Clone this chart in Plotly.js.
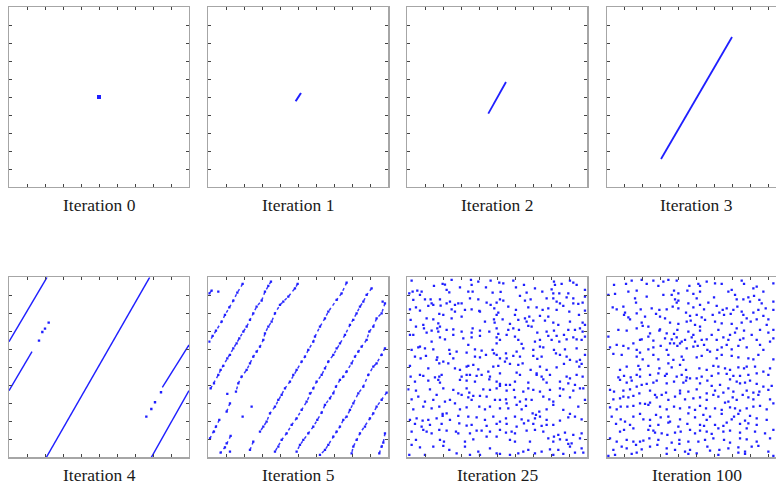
<!DOCTYPE html>
<html>
<head>
<meta charset="utf-8">
<script src="https://cdn.plot.ly/plotly-3.0.1.min.js"></script>
<style>
html,body{margin:0;padding:0;overflow:hidden;background:#fff;}
#chart{width:800px;height:492px;}
</style>
</head>
<body>
<div id="chart"></div>
<script>
// Torus grid: 540 x 540 units per panel (axes 0..540, ticks every 54 = 1/10)
const labels = ["Iteration 0","Iteration 1","Iteration 2","Iteration 3","Iteration 4","Iteration 5","Iteration 25","Iteration 100"];

// Iteration 0: single small blob at the centre
const iter0X = [270];
const iter0Y = [270];

// Iterations 1-3: stretched segment (endpoints)
const iter1X = [262, 278];
const iter1Y = [257, 282];
const iter2X = [243, 296];
const iter2Y = [220, 315];
const iter3X = [163, 376];
const iter3Y = [84, 450];

// Iteration 4: wrapped line pieces (null separates pieces) + sparse end dots
const iter4LineX = [112, 422, null, 0, 114, null, 0, 69, null, 427, 540, null, 460, 540];
const iter4LineY = [0, 540, null, 347, 540, null, 200, 317, null, 0, 200, null, 210, 337];
const iter4DotX = [90, 100, 108, 119, 412, 427, 438, 456];
const iter4DotY = [350, 376, 386, 404, 122, 145, 165, 195];

// Iteration 5: dotted stripes, points listed in order along each stripe
const iter5 = [
[103,520],[87,494],[75,470],[63,450],[50,427],[40,407],[23,380],[13,364],[3,347],null,[10,500],[3,492],null,[30,497],null,
[188,527],[180,514],[170,497],[160,470],[145,452],[135,432],[125,412],[115,392],[105,377],[93,357],[85,342],[75,327],[65,307],[57,297],[45,274],[37,262],[30,247],[17,222],[7,207],null,
[268,520],[260,507],[240,482],[225,467],[215,457],[200,432],[190,407],[180,392],[170,372],[165,352],[155,332],[145,317],[135,302],[125,282],[115,262],[100,242],[90,222],[83,197],null,[57,190],null,[65,162],[55,137],null,
[415,524],[400,492],[385,472],[360,437],[350,417],[335,392],[320,362],[315,347],[300,322],[290,302],[280,287],[265,262],[255,247],[245,227],[230,207],[220,187],[210,172],[200,152],[185,132],[175,107],[165,92],[155,77],null,[135,47],[125,22],null,
[490,507],[475,487],[465,467],[455,452],[445,432],[435,412],[425,397],[410,367],[395,342],[385,327],[375,307],[360,287],[350,267],[340,247],[325,227],[315,207],[305,192],[295,167],[280,142],[265,117],[250,97],[235,72],[220,52],[210,32],[200,17],null,
[530,462],[520,432],[505,417],[495,392],[483,377],[475,352],[460,332],[450,317],[440,302],[430,282],[415,257],[405,242],[395,232],[383,212],[375,192],[365,177],[350,157],[340,134],[327,112],[315,92],[300,72],[285,52],[275,37],[265,17],null,
[530,327],[520,307],[505,282],[495,272],[480,247],[465,212],[450,192],[435,162],[425,142],[415,122],[405,112],[395,92],[385,77],[375,62],[360,37],[350,22],[335,7],null,
[535,194],[520,172],[505,152],[495,132],[485,117],[470,92],[455,72],[445,52],[435,32],[430,12],null,
[530,72],[525,44],[520,32],[513,12],null,
[33,112],[23,92],[17,77],[5,57],null,[67,64],[55,42],[50,30],[37,14],null,[65,17],null,[103,122],null,[130,152],null,[523,467]
];

// Iteration 25: scattered points
const iter25 = [
[13,530],[80,514],[106,520],[113,518],[133,532],[158,510],[191,532],[193,517],[213,527],[236,510],[250,530],[276,524],[288,522],[318,530],[350,517],[383,507],[440,527],[443,517],[463,520],[488,530],[498,524],[508,517],[533,502],[16,497],[30,500],[43,497],[38,487],[118,502],[126,495],[183,497],[196,497],[256,494],[280,496],[326,510],[358,494],[405,497],[433,504],[438,492],[456,492],[483,492],[533,482],
[6,492],[18,472],[53,474],[70,474],[73,462],[98,474],[100,455],[118,462],[128,467],[143,457],[153,462],[163,462],[188,477],[213,474],[238,464],[268,464],[278,474],[288,470],[338,484],[353,470],[370,474],[418,477],[438,477],[448,467],[458,462],[478,480],[498,477],[513,460],[526,464],[8,444],[26,450],[63,454],[78,457],[133,444],[193,444],[218,437],[250,457],[261,447],[303,452],[326,442],[363,450],[388,450],[406,442],[423,447],[448,442],[468,454],[498,462],
[38,440],[96,430],[108,427],[143,437],[173,442],[216,439],[268,427],[273,434],[323,427],[353,417],[366,422],[378,410],[398,424],[423,422],[486,437],[515,427],[533,440],[58,417],[78,414],[93,402],[98,392],[133,417],[163,422],[233,407],[260,414],[262,404],[286,414],[308,400],[333,412],[358,407],[373,392],[413,410],[438,404],[453,397],[488,407],[526,404],[533,397],[10,412],[48,397],[26,392],
[50,387],[73,380],[90,387],[93,377],[118,382],[138,384],[163,377],[193,374],[196,387],[218,380],[246,377],[268,387],[273,370],[303,382],[318,387],[335,382],[363,394],[390,374],[418,377],[440,380],[448,364],[470,367],[483,382],[503,382],[518,387],[526,377],[8,367],[18,367],[58,374],[98,360],[113,354],[138,367],[168,357],[193,360],[218,364],[268,360],[278,352],[298,367],[323,362],[333,352],[383,347],[398,352],[423,364],[433,352],[456,347],[478,354],[498,360],[508,354],[523,352],[533,362],[73,347],[38,332],[183,337],[268,342],[343,340],
[13,322],[33,330],[53,327],[78,324],[126,322],[128,310],[148,317],[178,314],[203,324],[223,320],[256,322],[260,312],[268,307],[296,312],[328,317],[348,327],[378,322],[398,332],[408,330],[440,322],[446,312],[473,324],[508,327],[23,302],[40,297],[56,304],[90,300],[108,287],[138,297],[203,302],[218,300],[236,307],[278,297],[298,297],[318,304],[338,302],[378,304],[390,295],[403,302],[458,307],[478,302],[488,292],[518,292],[533,307],
[8,274],[63,267],[88,292],[96,282],[123,282],[143,267],[158,262],[178,272],[183,274],[198,277],[213,264],[243,257],[258,272],[273,274],[293,287],[308,280],[333,277],[346,282],[370,262],[388,252],[398,272],[418,262],[448,270],[470,280],[508,287],[516,272],[523,280],[10,242],[38,247],[48,244],[83,240],[96,242],[103,247],[163,242],[178,247],[188,247],[208,244],[223,247],[248,242],[278,252],[328,254],[338,247],[388,247],[403,242],[428,247],[478,242],[488,237],[508,247],[526,242],
[23,227],[63,230],[93,232],[98,224],[158,232],[178,230],[203,227],[246,234],[268,227],[278,220],[296,217],[308,217],[323,227],[363,224],[408,234],[418,224],[458,227],[483,222],[503,217],[528,207],[3,204],[26,200],[68,204],[108,207],[138,202],[153,192],[178,207],[186,194],[228,204],[248,202],[268,207],[278,214],[298,200],[320,202],[348,197],[363,207],[378,202],[398,197],[428,202],[458,207],[468,204],[498,200],[518,207],
[13,174],[33,182],[53,167],[78,172],[88,187],[113,167],[128,172],[143,162],[163,187],[183,180],[193,172],[198,184],[218,184],[238,182],[263,172],[278,172],[296,174],[298,162],[323,180],[338,167],[356,174],[373,172],[408,182],[426,174],[438,167],[458,184],[488,180],[533,172],[18,144],[48,152],[73,147],[96,152],[106,130],[118,132],[158,144],[178,150],[216,152],[233,144],[248,152],[278,147],[303,147],[328,157],[343,144],[356,154],[376,132],[386,127],[396,137],[418,144],[438,157],[468,142],[488,130],[513,152],
[8,112],[28,117],[46,110],[63,112],[88,117],[106,124],[128,112],[153,124],[183,122],[208,120],[233,112],[258,122],[278,107],[296,117],[323,122],[343,114],[350,102],[363,110],[383,117],[398,122],[418,112],[438,97],[458,110],[483,120],[503,122],[523,114],[23,100],[43,92],[68,97],[103,100],[156,102],[178,95],[193,97],[238,94],[268,100],[298,100],[328,92],[378,100],[403,94],[418,97],
[13,77],[48,82],[58,77],[73,72],[96,82],[118,80],[146,77],[153,72],[188,72],[208,80],[223,80],[248,77],[278,82],[296,74],[313,77],[323,72],[358,80],[383,82],[408,77],[440,62],[453,67],[473,74],[498,67],[523,72],[26,52],[98,52],[110,47],[173,47],[198,54],[238,62],[268,62],[308,52],[323,47],[368,47],[423,57],[438,47],[458,54],[478,52],[493,42],[518,57],
[13,37],[38,30],[78,32],[108,34],[126,22],[173,32],[213,17],[248,27],[268,12],[278,10],[308,7],[333,12],[348,17],[363,22],[383,12],[403,17],[428,24],[453,22],[483,40],[488,32],[503,14],[523,27],[528,14],[6,7],[53,7],[148,12],[188,7],[218,7],[438,7],[468,10]
];

// Iteration 100: scattered points
const iter100 = [
[22,517],[58,520],[75,530],[105,532],[120,520],[140,530],[155,514],[170,527],[185,532],[202,500],[210,530],[242,500],[248,514],[275,520],[280,514],[300,527],[325,522],[345,520],[375,502],[405,530],[412,520],[440,507],[450,512],[470,497],[500,522],[25,490],[65,497],[90,500],[215,492],[260,490],[280,497],[365,497],[425,480],[442,484],[458,472],
[5,487],[85,477],[88,464],[120,482],[170,487],[195,487],[205,474],[210,464],[215,470],[245,462],[270,477],[305,464],[322,480],[385,487],[390,474],[410,474],[430,467],[465,462],[500,467],[18,450],[30,444],[50,452],[55,434],[102,444],[135,447],[158,442],[180,444],[198,452],[215,447],[260,450],[280,457],[292,444],[330,454],[348,442],[360,447],[380,442],[392,452],[405,437],[440,434],[455,442],[477,447],[500,442],
[52,427],[65,420],[70,414],[90,432],[115,422],[148,430],[160,422],[175,417],[190,404],[238,434],[250,424],[252,410],[270,427],[285,420],[295,412],[318,427],[338,434],[352,427],[372,430],[410,427],[420,417],[432,407],[450,414],[470,424],[485,414],[105,404],[108,394],[125,392],[160,384],[215,400],[240,407],[265,397],[280,392],[325,407],[345,402],[375,400],[390,387],[405,404],[500,382],[480,397],
[35,382],[60,380],[90,387],[130,372],[158,380],[180,372],[202,370],[212,382],[245,377],[260,367],[280,380],[315,367],[335,382],[370,367],[385,374],[412,380],[435,367],[460,382],[485,374],[5,362],[100,352],[105,354],[125,362],[140,350],[175,357],[195,354],[210,360],[225,347],[235,352],[255,360],[265,347],[285,352],[300,354],[330,352],[350,360],[365,352],[400,352],[410,357],[450,352],[490,347],[500,357],
[10,330],[30,337],[50,334],[65,327],[80,342],[90,322],[100,314],[125,324],[140,330],[162,334],[180,322],[190,342],[202,342],[212,334],[220,342],[240,327],[260,332],[273,334],[292,337],[302,322],[310,317],[332,322],[345,330],[360,337],[375,324],[395,334],[420,330],[460,337],[470,322],[20,310],[45,307],[90,302],[108,294],[140,307],[155,294],[185,307],[200,292],[225,302],[230,292],[270,300],[285,304],[330,297],[345,307],[375,304],[395,300],[425,297],[440,294],[455,307],[500,294],
[40,262],[60,272],[95,274],[100,264],[125,274],[158,267],[185,282],[195,270],[220,277],[238,262],[278,267],[300,262],[320,274],[335,272],[355,267],[370,262],[395,270],[412,267],[420,272],[445,272],[470,257],[490,267],[35,240],[52,244],[72,240],[90,247],[100,242],[130,247],[155,252],[175,244],[180,250],[210,242],[225,247],[240,240],[270,237],[285,242],[315,244],[335,252],[360,250],[380,244],[400,244],[425,247],[450,252],[485,247],
[10,202],[40,232],[60,224],[75,230],[90,212],[105,217],[120,220],[140,224],[150,230],[180,222],[202,227],[230,224],[238,230],[250,237],[280,222],[302,230],[315,214],[340,217],[370,234],[390,227],[400,222],[415,224],[430,230],[450,220],[470,212],[495,214],[22,197],[50,200],[70,204],[98,192],[130,200],[145,187],[178,194],[220,200],[245,197],[270,204],[300,192],[325,200],[350,194],[365,207],[380,197],[420,200],[440,194],[458,197],[485,202],
[20,174],[40,177],[50,182],[65,180],[80,184],[100,162],[115,160],[130,164],[150,180],[165,187],[185,172],[205,182],[220,192],[235,174],[260,177],[280,180],[300,172],[320,187],[335,182],[355,164],[365,167],[378,180],[390,172],[408,187],[425,180],[440,174],[455,187],[490,174],[500,162],[10,150],[30,144],[42,152],[62,152],[80,154],[125,157],[160,152],[180,144],[202,152],[220,147],[248,150],[265,142],[280,154],[298,147],[325,147],[345,142],[370,150],[385,147],[400,140],[420,147],[440,152],[460,154],[480,144],
[15,122],[42,114],[55,107],[80,122],[100,130],[110,114],[130,112],[148,127],[162,120],[185,122],[190,107],[220,114],[245,132],[265,120],[290,127],[300,112],[310,122],[325,97],[345,130],[360,104],[375,114],[382,122],[395,130],[415,110],[430,124],[450,117],[480,112],[28,100],[70,97],[130,94],[155,97],[185,104],[215,92],[242,100],[280,97],[292,94],[350,94],[400,100],[425,102],[450,97],
[40,77],[52,82],[80,87],[125,82],[140,80],[145,74],[165,72],[182,67],[205,74],[222,77],[250,82],[265,72],[280,80],[300,77],[315,70],[335,87],[350,77],[370,80],[400,74],[420,87],[445,77],[475,72],[500,82],[10,57],[30,47],[60,52],[80,47],[100,47],[110,50],[128,57],[155,52],[195,44],[218,52],[245,47],[275,47],[295,52],[320,57],[352,52],[370,44],[400,57],[420,54],[450,47],[490,57],
[20,22],[45,32],[60,27],[88,37],[105,24],[130,32],[152,37],[180,27],[205,22],[218,40],[235,17],[250,22],[270,12],[302,32],[310,20],[338,22],[365,27],[395,30],[395,14],[415,17],[435,32],[455,34],[485,17],[5,4],[25,7],[75,10],[90,14],[180,10],[245,10],[335,7],[415,10],[500,4]
];

// ---------- layout ----------
const W = 800, H = 492;
const leftPx = [9, 208.3, 407.3, 606.7];
const rowTopPx = [7, 277.3];
const sizePx = 180;
const labelYPx = [204.5, 474.5];
const blue = "#1f1fff";

const traces = [];
function ax(i){ return i === 1 ? "" : String(i); }
function addPts(i, xs, ys, size, color){
  traces.push({type:"scatter", mode:"markers", x:xs, y:ys, xaxis:"x"+ax(i), yaxis:"y"+ax(i),
    marker:{color:color || blue, size:size, symbol:"square", line:{width:0}}, hoverinfo:"skip"});
}
function addLine(i, xs, ys, w, dash, color){
  traces.push({type:"scatter", mode:"lines", x:xs, y:ys, xaxis:"x"+ax(i), yaxis:"y"+ax(i),
    line:{color:color || blue, width:w, dash:dash || "solid"}, connectgaps:false, hoverinfo:"skip"});
}
function split(pairs){ return [pairs.map(p=>p ? p[0] : null), pairs.map(p=>p ? p[1] : null)]; }

addPts(1, iter0X, iter0Y, 4);
addLine(2, iter1X, iter1Y, 2);
addLine(3, iter2X, iter2Y, 1.8);
addLine(4, iter3X, iter3Y, 1.8);
addLine(5, iter4LineX, iter4LineY, 1.4);
addPts(5, iter4DotX, iter4DotY, 2.4);
let s5 = split(iter5);
addLine(6, s5[0], s5[1], 1.5, "dot", "#3a3aff");
addPts(6, s5[0], s5[1], 2.3);
let s25 = split(iter25); addPts(7, s25[0], s25[1], 2.3);
let s100 = split(iter100); addPts(8, s100[0], s100[1], 2.3);

const layout = {
  width: W, height: H,
  margin:{l:0,r:0,t:0,b:0,pad:0},
  paper_bgcolor:"#ffffff", plot_bgcolor:"#ffffff",
  showlegend:false,
  annotations:[]
};
for (let i = 1; i <= 8; i++){
  const col = (i-1) % 4, row = Math.floor((i-1)/4);
  const x0 = leftPx[col] / W, x1 = (leftPx[col] + sizePx) / W;
  const y1 = 1 - rowTopPx[row] / H, y0 = 1 - (rowTopPx[row] + sizePx) / H;
  const common = {range:[0,540], tick0:0, dtick:54, ticks:"inside", ticklen:3, tickwidth:1,
    tickcolor:"#444", showticklabels:false, showgrid:false, zeroline:false,
    showline:true, linecolor:"#a6a6a6", linewidth:1.2, mirror:"ticks", fixedrange:true};
  layout["xaxis"+ax(i)] = Object.assign({}, common, {domain:[x0,x1], anchor:"y"+ax(i)});
  layout["yaxis"+ax(i)] = Object.assign({}, common, {domain:[y0,y1], anchor:"x"+ax(i)});
  layout.annotations.push({text:labels[i-1], xref:"paper", yref:"paper",
    x:(leftPx[col] + sizePx/2)/W, y:1 - labelYPx[row]/H, xanchor:"center", yanchor:"middle",
    showarrow:false, font:{family:"Liberation Serif, serif", size:17.5, color:"#1a1a1a"}});
}

Plotly.newPlot("chart", traces, layout, {staticPlot:true, displayModeBar:false});
</script>
</body>
</html>
